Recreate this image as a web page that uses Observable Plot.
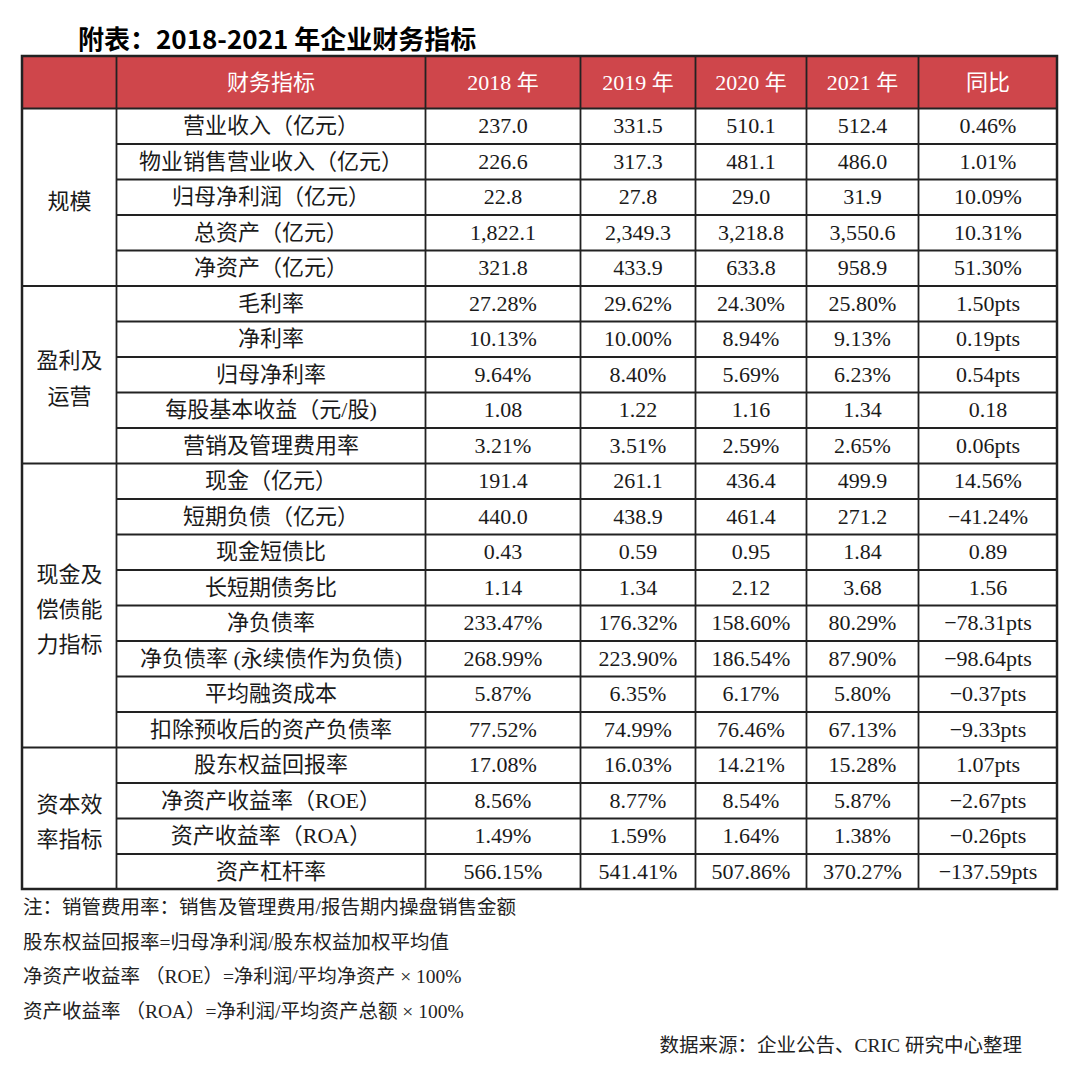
<!DOCTYPE html>
<html><head><meta charset="utf-8">
<script src="https://cdn.jsdelivr.net/npm/d3@7"></script>
<script src="https://cdn.jsdelivr.net/npm/@observablehq/plot@0.6"></script>
<style>
body{margin:0;background:#fff;width:1080px;}
#title{height:54px;box-sizing:border-box;padding:24px 0 0 78px;font:bold 26px/28px "Noto Sans CJK SC",sans-serif;color:#000;white-space:nowrap;}
#notes{margin-top:-3px;padding-left:23px;font:19.5px/34.5px "Liberation Serif","Noto Sans CJK SC",serif;color:#222;white-space:pre;}
#source{text-align:right;padding-right:58px;}
svg{display:block}
</style></head><body>
<div id="title">附表：2018-2021 年企业财务指标</div>
<div id="chart"></div>
<div id="notes"><div>注：销管费用率：销售及管理费用/报告期内操盘销售金额</div><div>股东权益回报率=归母净利润/股东权益加权平均值</div><div>净资产收益率 （ROE）=净利润/平均净资产 × 100%</div><div>资产收益率 （ROA）=净利润/平均资产总额 × 100%</div><div id="source">数据来源：企业公告、CRIC 研究中心整理</div></div>
<script>
const headers = ["", "财务指标", "2018 年", "2019 年", "2020 年", "2021 年", "同比"];
const groups = ["规模", "盈利及\n运营", "现金及\n偿债能\n力指标", "资本效\n率指标"];
const groupSizes = [5, 5, 8, 4];
const indicators = [
  "营业收入（亿元）", "物业销售营业收入（亿元）", "归母净利润（亿元）", "总资产（亿元）", "净资产（亿元）",
  "毛利率", "净利率", "归母净利率", "每股基本收益（元/股)", "营销及管理费用率",
  "现金（亿元）", "短期负债（亿元）", "现金短债比", "长短期债务比", "净负债率", "净负债率 (永续债作为负债)", "平均融资成本", "扣除预收后的资产负债率",
  "股东权益回报率", "净资产收益率（ROE）", "资产收益率（ROA）", "资产杠杆率"
];
const v2018 = ["237.0","226.6","22.8","1,822.1","321.8","27.28%","10.13%","9.64%","1.08","3.21%","191.4","440.0","0.43","1.14","233.47%","268.99%","5.87%","77.52%","17.08%","8.56%","1.49%","566.15%"];
const v2019 = ["331.5","317.3","27.8","2,349.3","433.9","29.62%","10.00%","8.40%","1.22","3.51%","261.1","438.9","0.59","1.34","176.32%","223.90%","6.35%","74.99%","16.03%","8.77%","1.59%","541.41%"];
const v2020 = ["510.1","481.1","29.0","3,218.8","633.8","24.30%","8.94%","5.69%","1.16","2.59%","436.4","461.4","0.95","2.12","158.60%","186.54%","6.17%","76.46%","14.21%","8.54%","1.64%","507.86%"];
const v2021 = ["512.4","486.0","31.9","3,550.6","958.9","25.80%","9.13%","6.23%","1.34","2.65%","499.9","271.2","1.84","3.68","80.29%","87.90%","5.80%","67.13%","15.28%","5.87%","1.38%","370.27%"];
const yoy = ["0.46%","1.01%","10.09%","10.31%","51.30%","1.50pts","0.19pts","0.54pts","0.18","0.06pts","14.56%","−41.24%","0.89","1.56","−78.31pts","−98.64pts","−0.37pts","−9.33pts","1.07pts","−2.67pts","−0.26pts","−137.59pts"];

// layout
const colW = [94, 309, 155, 115, 111, 112, 139];
const colX = colW.reduce((a, w, i) => { a.push(a[i] + w); return a; }, [0]);
const totalW = colX[colX.length - 1];
const headerH = 52, rowH = 35.5;
const nRows = indicators.length;
const totalH = headerH + nRows * rowH;
const rowY = i => headerH + (i + 0.5) * rowH;
const colC = c => (colX[c] + colX[c + 1]) / 2;

const columns = [indicators, v2018, v2019, v2020, v2021, yoy];
const cells = [];
indicators.forEach((_, i) => columns.forEach((col, j) => cells.push({x: colC(j + 1), y: rowY(i), text: col[i]})));
const headerCells = headers.map((h, c) => ({x: colC(c), y: headerH / 2, text: h}));

let start = 0;
const groupStarts = new Set();
const groupCells = groups.map((g, k) => {
  const s = start; start += groupSizes[k]; groupStarts.add(s);
  return {x: colC(0), y: headerH + (s + groupSizes[k] / 2) * rowH, text: g};
});

const hLines = [{y: headerH, x1: 0, x2: totalW}];
for (let i = 1; i < nRows; i++) {
  hLines.push({y: headerH + i * rowH, x1: groupStarts.has(i) ? 0 : colX[1], x2: totalW});
}
const vLines = colX.slice(1, colX.length - 1).map(x => ({x, y1: 0, y2: totalH}));
const frame = [{x1: 0, x2: totalW, y1: 0, y2: totalH}];
const headerBox = [{x1: 0, x2: totalW, y1: 0, y2: headerH}];

const font = "'Liberation Serif','Noto Sans CJK SC',serif";
const chart = Plot.plot({
  width: 1080, height: 840,
  marginTop: 2, marginBottom: 5, marginLeft: 22, marginRight: 23,
  x: {type: "linear", domain: [0, totalW], range: [22, 1057], axis: null},
  y: {type: "linear", domain: [0, totalH], range: [2, 835], axis: null},
  style: {fontFamily: font, background: "#fff"},
  marks: [
    Plot.rect(headerBox, {x1: "x1", x2: "x2", y1: "y1", y2: "y2", fill: "#cf464b"}),
    Plot.ruleY(hLines, {y: "y", x1: "x1", x2: "x2", stroke: "#222", strokeWidth: 1.8}),
    Plot.ruleX(vLines, {x: "x", y1: "y1", y2: "y2", stroke: "#222", strokeWidth: 1.8}),
    Plot.rect(frame, {x1: "x1", x2: "x2", y1: "y1", y2: "y2", fill: "none", stroke: "#222", strokeWidth: 2.5}),
    Plot.text(headerCells, {x: "x", y: "y", text: "text", fill: "#fff", fontSize: 22, fontFamily: font}),
    Plot.text(cells, {x: "x", y: "y", text: "text", fill: "#1a1a1a", fontSize: 22, fontFamily: font}),
    Plot.text(groupCells, {x: "x", y: "y", text: "text", fill: "#1a1a1a", fontSize: 22, lineHeight: 1.6, fontFamily: font})
  ]
});
document.getElementById("chart").appendChild(chart);
</script>
</body></html>
